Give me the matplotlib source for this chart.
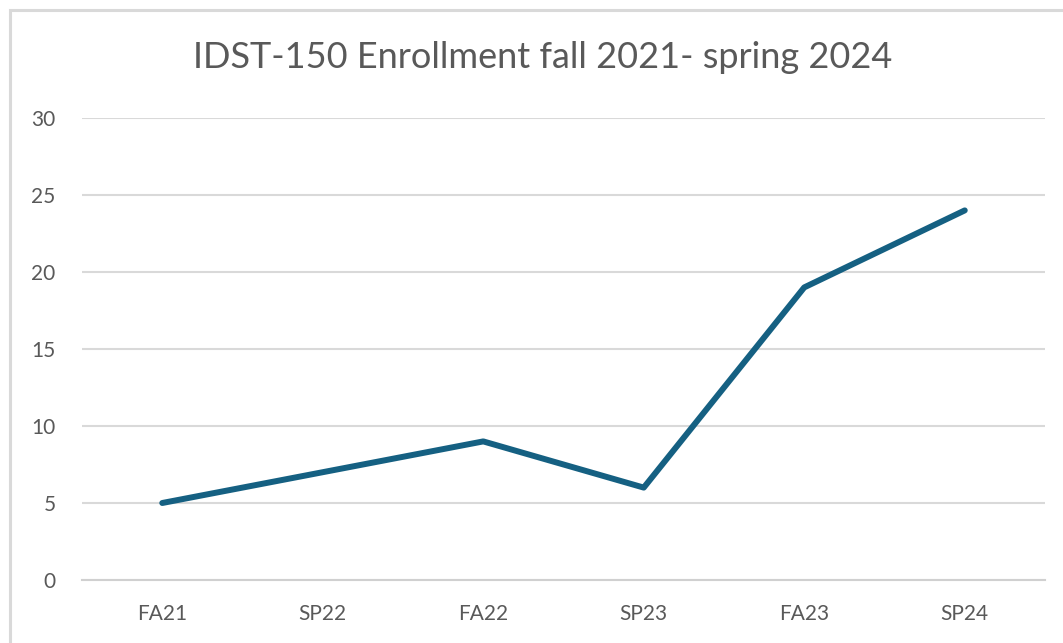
import matplotlib.pyplot as plt
from matplotlib.patches import Rectangle

terms = ["FA21", "SP22", "FA22", "SP23", "FA23", "SP24"]
enrollment = [5, 7, 9, 6, 19, 24]

plt.rcParams['font.family'] = ['Lato', 'DejaVu Sans']

fig = plt.figure(figsize=(10.63, 6.43), dpi=100)
# chart frame (cut off at right/bottom like the screenshot)
fig.patches.append(Rectangle((10 / 1063, -0.05), 1.1, 1 - 10 / 643 + 0.05,
                             transform=fig.transFigure, fill=False,
                             edgecolor='#d9d9d9', linewidth=2.2))

ax = fig.add_axes([82 / 1063, 1 - 580 / 643, (1045 - 82) / 1063, (580 - 118) / 643])
ax.plot(range(len(terms)), enrollment, color='#156082', linewidth=4.3,
        solid_capstyle='round', solid_joinstyle='round', zorder=3)

ax.set_xlim(-0.5, len(terms) - 0.5)
ax.set_ylim(0, 30)
ax.set_yticks(range(0, 31, 5))
ax.set_xticks(range(len(terms)))
ax.set_xticklabels(terms)
ax.grid(axis='y', color='#d9d9d9', linewidth=1.5)
ax.set_axisbelow(True)
for s in ['top', 'right', 'left']:
    ax.spines[s].set_visible(False)
ax.spines['bottom'].set_color('#d0d0d0')
ax.spines['bottom'].set_linewidth(1.5)
ax.tick_params(axis='both', length=0, labelsize=15, labelcolor='#595959')
ax.tick_params(axis='y', pad=19)
ax.tick_params(axis='x', pad=17)

fig.text(543 / 1063, 1 - 58 / 643, "IDST-150 Enrollment fall 2021- spring 2024",
         ha='center', va='center', fontsize=26, color='#595959')

plt.savefig("out.png", dpi=100)
